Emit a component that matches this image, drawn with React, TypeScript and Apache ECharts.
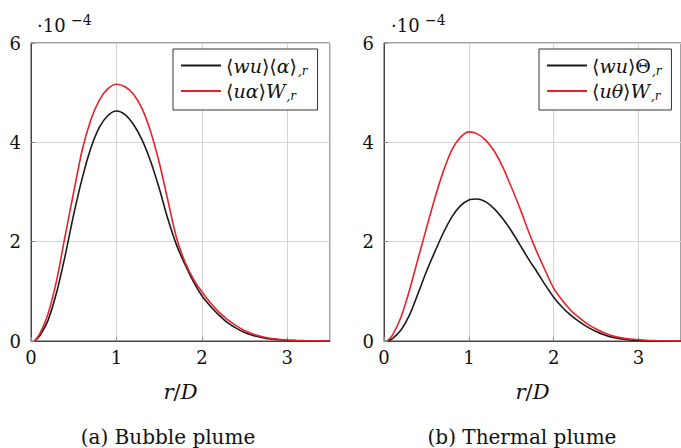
import React, { useEffect, useRef } from "react";
import * as echarts from "echarts";

// Bubble plume (a)
const bubbleWuR = [0.04, 0.1, 0.2, 0.3, 0.4, 0.5, 0.6, 0.7, 0.8, 0.9, 1.0, 1.1, 1.2, 1.3, 1.4, 1.5, 1.6, 1.7, 1.8, 1.9, 2.0, 2.1, 2.2, 2.3, 2.4, 2.5, 2.6, 2.7, 2.8, 2.9, 3.0, 3.1, 3.2, 3.3, 3.4, 3.5];
const bubbleWu = [0, 0.1, 0.42, 0.98, 1.72, 2.55, 3.28, 3.88, 4.3, 4.54, 4.63, 4.56, 4.36, 4.05, 3.62, 3.08, 2.47, 1.95, 1.55, 1.2, 0.91, 0.7, 0.52, 0.37, 0.26, 0.17, 0.11, 0.07, 0.04, 0.025, 0.015, 0.008, 0.004, 0.002, 0.001, 0];
const bubbleUaR = [0.04, 0.1, 0.2, 0.3, 0.4, 0.5, 0.6, 0.7, 0.8, 0.9, 1.0, 1.1, 1.2, 1.3, 1.4, 1.5, 1.6, 1.7, 1.8, 1.9, 2.0, 2.1, 2.2, 2.3, 2.4, 2.5, 2.6, 2.7, 2.8, 2.9, 3.0, 3.1, 3.2, 3.3, 3.4, 3.5];
const bubbleUa = [0, 0.14, 0.55, 1.22, 2.12, 3.0, 3.85, 4.45, 4.85, 5.08, 5.17, 5.12, 4.97, 4.68, 4.22, 3.6, 2.85, 2.1, 1.6, 1.25, 0.99, 0.77, 0.58, 0.43, 0.31, 0.21, 0.14, 0.09, 0.055, 0.035, 0.02, 0.012, 0.007, 0.004, 0.002, 0.001];

// Thermal plume (b)
const thermalWuR = [0.04, 0.1, 0.2, 0.3, 0.4, 0.5, 0.6, 0.7, 0.8, 0.9, 1.0, 1.1, 1.2, 1.3, 1.4, 1.5, 1.6, 1.7, 1.8, 1.9, 2.0, 2.1, 2.2, 2.3, 2.4, 2.5, 2.6, 2.7, 2.8, 2.9, 3.0, 3.1, 3.2, 3.3, 3.4, 3.5];
const thermalWu = [0, 0.05, 0.22, 0.52, 0.95, 1.4, 1.8, 2.18, 2.5, 2.72, 2.84, 2.86, 2.8, 2.66, 2.46, 2.22, 1.94, 1.66, 1.4, 1.13, 0.88, 0.68, 0.52, 0.39, 0.28, 0.19, 0.12, 0.07, 0.04, 0.02, 0.01, 0.005, 0.002, 0.001, 0, 0];
const thermalUtR = [0.04, 0.1, 0.2, 0.3, 0.4, 0.5, 0.6, 0.7, 0.8, 0.9, 1.0, 1.1, 1.2, 1.3, 1.4, 1.5, 1.6, 1.7, 1.8, 1.9, 2.0, 2.1, 2.2, 2.3, 2.4, 2.5, 2.6, 2.7, 2.8, 2.9, 3.0, 3.1, 3.2, 3.3, 3.4, 3.5];
const thermalUt = [0, 0.12, 0.48, 1.02, 1.65, 2.27, 2.88, 3.42, 3.85, 4.1, 4.21, 4.17, 4.04, 3.82, 3.5, 3.1, 2.68, 2.22, 1.8, 1.42, 1.06, 0.82, 0.62, 0.47, 0.34, 0.24, 0.16, 0.1, 0.065, 0.04, 0.025, 0.015, 0.008, 0.004, 0.002, 0.001, 0];

const xTicks = [0, 1, 2, 3];
const yTicks = [0, 2, 4, 6];
const captions = ["(a) Bubble plume", "(b) Thermal plume"];
const names = ["⟨wu⟩⟨α⟩,r", "⟨uα⟩W,r", "⟨wu⟩Θ,r", "⟨uθ⟩W,r"];
const richNames: Record<string, string> = {
  "⟨wu⟩⟨α⟩,r": "{n|⟨}{i|wu}{n|⟩⟨}{i|α}{n|⟩}{s|,r}",
  "⟨uα⟩W,r": "{n|⟨}{i|uα}{n|⟩}{i|W}{s|,r}",
  "⟨wu⟩Θ,r": "{n|⟨}{i|wu}{n|⟩Θ}{s|,r}",
  "⟨uθ⟩W,r": "{n|⟨}{i|uθ}{n|⟩}{i|W}{s|,r}",
};

const SERIF = "DejaVu Serif";
const BLACK = "#1a1a1a";
const RED = "#e8222b";

const pairs = (xs: number[], ys: number[]) => xs.map((x, i) => [x, ys[i]]);

export default function App() {
  const ref = useRef<HTMLDivElement>(null);
  useEffect(() => {
    if (!ref.current) return;
    const chart = echarts.init(ref.current, null, { renderer: "svg" });
    const grids = [
      { left: 31, top: 43, width: 299, height: 298 },
      { left: 384, top: 43, width: 299, height: 298 },
    ];
    const richText = {
      n: { fontFamily: SERIF, fontSize: 19, color: "#111", lineHeight: 22 },
      i: { fontFamily: SERIF, fontStyle: "italic", fontSize: 19, color: "#111", lineHeight: 22 },
      s: { fontFamily: SERIF, fontStyle: "italic", fontSize: 12, color: "#111", verticalAlign: "bottom", lineHeight: 12, padding: [0, 0, 0, 1] },
    };
    const xAxes: any[] = [];
    const yAxes: any[] = [];
    grids.forEach((_, gi) => {
      xAxes.push({
        type: "value",
        gridIndex: gi,
        min: 0,
        max: 3.5,
        interval: 1,
        name: "{i|r}{n|/}{i|D}",
        nameLocation: "middle",
        nameGap: 40,
        nameTextStyle: {
          fontFamily: SERIF,
          fontSize: 21,
          rich: {
            i: { fontFamily: SERIF, fontStyle: "italic", fontSize: 21, color: "#111" },
            n: { fontFamily: SERIF, fontSize: 21, color: "#111" },
          },
        },
        axisLine: { show: true, lineStyle: { color: "#444", width: 1 } },
        axisTick: { show: true, inside: true, length: 4, lineStyle: { color: "#888" } },
        axisLabel: {
          fontFamily: SERIF,
          fontSize: 18,
          color: "#111",
          margin: 7,
          showMaxLabel: false,
          formatter: (v: number) => (xTicks.includes(v) ? String(v) : ""),
        },
        splitLine: { show: true, lineStyle: { color: "#d4d4d4", width: 1 } },
      });
      yAxes.push({
        type: "value",
        gridIndex: gi,
        min: 0,
        max: 6,
        interval: 2,
        axisLine: { show: true, lineStyle: { color: "#444", width: 1 } },
        axisTick: { show: true, inside: true, length: 4, lineStyle: { color: "#888" } },
        axisLabel: {
          fontFamily: SERIF,
          fontSize: 18,
          color: "#111",
          margin: 10,
          formatter: (v: number) => (yTicks.includes(v) ? String(v) : ""),
        },
        splitLine: { show: true, lineStyle: { color: "#d4d4d4", width: 1 } },
      });
    });
    const mkSeries = (name: string, gi: number, data: number[][], color: string) => ({
      name,
      type: "line",
      xAxisIndex: gi,
      yAxisIndex: gi,
      data,
      symbol: "none",
      showSymbol: false,
      smooth: 0.3,
      lineStyle: { color, width: 1.6 },
      itemStyle: { color },
      clip: true,
    });
    const mkLegend = (data: string[], left: number) => ({
      data,
      left,
      top: 49,
      orient: "vertical",
      backgroundColor: "#fff",
      borderColor: "#333",
      borderWidth: 1,
      borderRadius: 0,
      padding: [7, 10, 8, 8],
      itemGap: 5,
      itemWidth: 40,
      itemHeight: 2,
      icon: "rect",
      formatter: (n: string) => richNames[n] || n,
      textStyle: { fontFamily: SERIF, fontSize: 19, rich: richText },
    });
    const exp = (x: number) => [
      { type: "text", x, y: 34, style: { text: "·10", font: `18px ${SERIF}`, fill: "#111", textVerticalAlign: "bottom" } },
      { type: "text", x: x + 34, y: 27, style: { text: "−4", font: `14px ${SERIF}`, fill: "#111", textVerticalAlign: "bottom" } },
    ];
    chart.setOption({
      animation: false,
      backgroundColor: "#fff",
      grid: grids.map((g) => ({ ...g, show: true, borderColor: "#444", borderWidth: 1, backgroundColor: "transparent" })),
      xAxis: xAxes,
      yAxis: yAxes,
      legend: [mkLegend([names[0], names[1]], 173), mkLegend([names[2], names[3]], 539)],
      series: [
        mkSeries(names[0], 0, pairs(bubbleWuR, bubbleWu), BLACK),
        mkSeries(names[1], 0, pairs(bubbleUaR, bubbleUa), RED),
        mkSeries(names[2], 1, pairs(thermalWuR, thermalWu), BLACK),
        mkSeries(names[3], 1, pairs(thermalUtR, thermalUt), RED),
      ],
      graphic: [
        ...exp(37),
        ...exp(391),
        { type: "text", x: 168, y: 437, style: { text: captions[0], font: `20px ${SERIF}`, fill: "#111", textAlign: "center", textVerticalAlign: "middle" } },
        { type: "text", x: 522, y: 437, style: { text: captions[1], font: `20px ${SERIF}`, fill: "#111", textAlign: "center", textVerticalAlign: "middle" } },
      ],
    });
    return () => chart.dispose();
  }, []);
  return <div ref={ref} style={{ position: "absolute", left: 0, top: 0, width: 681, height: 448 }} />;
}
